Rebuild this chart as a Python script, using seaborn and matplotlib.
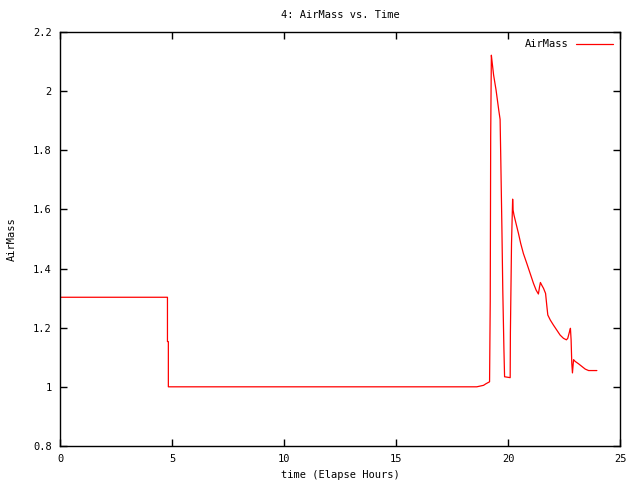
import pandas as pd
import matplotlib
matplotlib.use("Agg")
import matplotlib.pyplot as plt
import seaborn as sns

# Elapsed hours and air mass
hours = [0.0, 4.79, 4.79, 4.83, 4.83, 18.6, 18.9, 19.0, 19.17, 19.2, 19.22,
         19.25, 19.27, 19.35, 19.46, 19.52, 19.58, 19.64, 19.67, 19.72, 19.76,
         19.81, 19.84, 20.09, 20.1, 20.15, 20.2, 20.22, 20.26, 20.35, 20.46,
         20.56, 20.68, 20.83, 20.98, 21.13, 21.25, 21.35, 21.4, 21.44, 21.5,
         21.58, 21.67, 21.73, 21.77, 21.88, 22.02, 22.17, 22.32, 22.47, 22.6,
         22.66, 22.74, 22.78, 22.81, 22.84, 22.87, 22.92, 22.99, 23.14, 23.29,
         23.44, 23.59, 23.96]
airmass = [1.303, 1.303, 1.153, 1.153, 1.0, 1.0, 1.005, 1.01, 1.017, 1.29, 1.846,
           2.122, 2.108, 2.055, 2.004, 1.97, 1.936, 1.905, 1.774, 1.54, 1.327,
           1.13, 1.034, 1.031, 1.183, 1.485, 1.635, 1.598, 1.581, 1.553, 1.519,
           1.485, 1.451, 1.418, 1.384, 1.35, 1.327, 1.314, 1.338, 1.353, 1.344,
           1.333, 1.316, 1.271, 1.243, 1.226, 1.209, 1.192, 1.175, 1.164, 1.159,
           1.164, 1.187, 1.198, 1.159, 1.08, 1.047, 1.092, 1.086, 1.078, 1.069,
           1.06, 1.055, 1.055]

x_ticks = [0, 5, 10, 15, 20, 25]
y_ticks = [0.8, 1.0, 1.2, 1.4, 1.6, 1.8, 2.0, 2.2]
y_tick_labels = ["0.8", "1", "1.2", "1.4", "1.6", "1.8", "2", "2.2"]

df = pd.DataFrame({"time": hours, "AirMass": airmass})

sns.set_style("ticks")
plt.rcParams["font.family"] = ["DejaVu Sans Mono"]
plt.rcParams["font.size"] = 7.5
plt.rcParams["text.color"] = "black"
plt.rcParams["axes.labelcolor"] = "black"
plt.rcParams["xtick.color"] = "black"
plt.rcParams["ytick.color"] = "black"

fig = plt.figure(figsize=(6.4, 4.8), dpi=100)
ax = fig.add_axes([0.094, 0.071, 0.875, 0.862])

sns.lineplot(data=df, x="time", y="AirMass", sort=False, estimator=None,
             color="red", linewidth=0.9, label="AirMass", ax=ax)

ax.set_xlim(0, 25)
ax.set_ylim(0.8, 2.2)
ax.set_xticks(x_ticks)
ax.set_xticklabels([str(t) for t in x_ticks])
ax.set_yticks(y_ticks)
ax.set_yticklabels(y_tick_labels)
ax.tick_params(direction="in", length=5, width=1, top=True, right=True,
               labelsize=7.5, pad=6)
for side in ax.spines.values():
    side.set_visible(True)
    side.set_linewidth(1)
    side.set_color("black")

ax.set_title("4: AirMass vs. Time", fontsize=7.5, pad=10)
ax.set_xlabel("time (Elapse Hours)", fontsize=7.5, labelpad=4)
ax.set_ylabel("AirMass", fontsize=7.5, labelpad=12)

leg = ax.legend(loc="upper right", frameon=False, markerfirst=False,
                handlelength=3.5, fontsize=7.5, borderaxespad=0.3)

fig.savefig("out.png", dpi=100)
